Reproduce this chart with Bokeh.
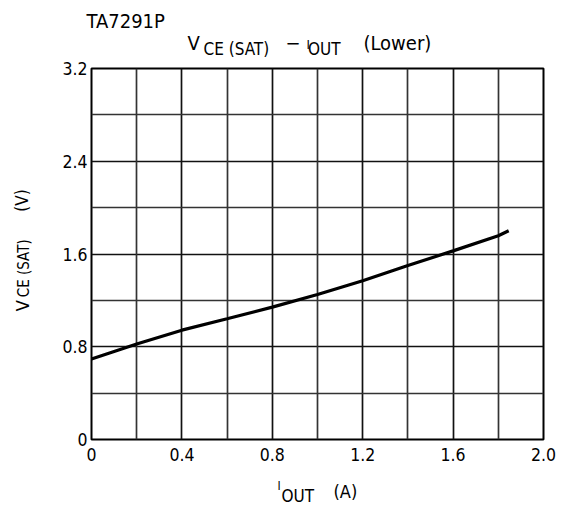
import math
from bokeh.plotting import figure
from bokeh.models import FixedTicker, Grid, Label, Range1d
from bokeh.embed import file_html
from bokeh.resources import INLINE

# ---- data ----
iout = [0.0, 0.2, 0.4, 0.6, 0.8, 1.0, 1.2, 1.4, 1.6, 1.8, 1.846]
vce_sat = [0.695, 0.823, 0.943, 1.042, 1.142, 1.25, 1.37, 1.50, 1.627, 1.758, 1.80]

x_ticks = [0.0, 0.4, 0.8, 1.2, 1.6, 2.0]
x_tick_labels = ["0", "0.4", "0.8", "1.2", "1.6", "2.0"]
y_ticks = [0.0, 0.8, 1.6, 2.4, 3.2]
y_tick_labels = ["0", "0.8", "1.6", "2.4", "3.2"]
x_minor = [0.2, 0.6, 1.0, 1.4, 1.8]
y_minor = [0.4, 1.2, 2.0, 2.8]

FONT = "DejaVu Sans Condensed"
NB = "\u00a0"

p = figure(width=563, height=509, output_backend="svg", toolbar_location=None,
           x_range=Range1d(0, 2.0), y_range=Range1d(0, 3.2),
           min_border_left=91, min_border_right=20, min_border_top=66, min_border_bottom=70,
           title=None)
p.background_fill_color = "white"
p.border_fill_color = "white"
p.outline_line_color = "black"
p.outline_line_width = 2
p.outline_line_alpha = 1

for ax, ticks, labels, standoff in ((p.xaxis[0], x_ticks, x_tick_labels, 8),
                                    (p.yaxis[0], y_ticks, y_tick_labels, 4)):
    ax.ticker = FixedTicker(ticks=ticks)
    ax.major_label_overrides = {t: l for t, l in zip(ticks, labels)}
    ax.axis_line_color = None
    ax.major_tick_line_color = None
    ax.minor_tick_line_color = None
    ax.major_tick_out = 0
    ax.major_tick_in = 0
    ax.minor_tick_out = 0
    ax.major_label_text_font = FONT
    ax.major_label_text_font_size = "17.5px"
    ax.major_label_text_color = "black"
    ax.major_label_standoff = standoff

p.xgrid.ticker = FixedTicker(ticks=[0.4, 0.8, 1.2, 1.6])
p.ygrid.ticker = FixedTicker(ticks=[0.8, 1.6, 2.4])
for g in (p.xgrid[0], p.ygrid[0]):
    g.grid_line_color = "#111111"
    g.grid_line_width = 1.7
    g.grid_line_alpha = 1

p.add_layout(Grid(dimension=0, ticker=FixedTicker(ticks=x_minor),
                  grid_line_color="#333333", grid_line_width=1.7))
p.add_layout(Grid(dimension=1, ticker=FixedTicker(ticks=y_minor),
                  grid_line_color="#333333", grid_line_width=1.7))

p.line(iout, vce_sat, line_color="black", line_width=3.2)


def lab(side, txt, x, y, size, angle=0.0):
    p.add_layout(Label(x=x, y=y, text=txt, text_font=FONT, text_font_size=size,
                       text_color="black", text_align="left", text_baseline="alphabetic",
                       angle=angle), side)

# titles (above panel: three rows)
lab("above", "TA7291P", -0.0221, 3.607, "20px")
lab("above", "V" + NB * 15 + "\u2212" + NB * 11 + "(Lower)", 0.4248, 3.419, "20px")
lab("above", "CE (SAT)" + NB * 8 + "OUT", 0.4956, 3.367, "17px")
# small pieces (narrow, kept in the right panel)
lab("right", "I", 0.9513, 3.410, "13px")
lab("right", "I", 0.823, -0.4032, "12px")

# y axis label (rotated)
lab("left", "V", -0.3053, 1.1067, "18px", math.pi / 2)
lab("left", "CE (SAT)", -0.2987, 1.2268, "15px", math.pi / 2)
lab("left", "(V)", -0.3075, 1.9646, "17px", math.pi / 2)

# x axis label
lab("below", "OUT", 0.8407, -0.4846, "17px")
lab("below", "(A)", 1.0708, -0.4461, "18px")

open("out.html", "w").write(file_html(p, INLINE))
